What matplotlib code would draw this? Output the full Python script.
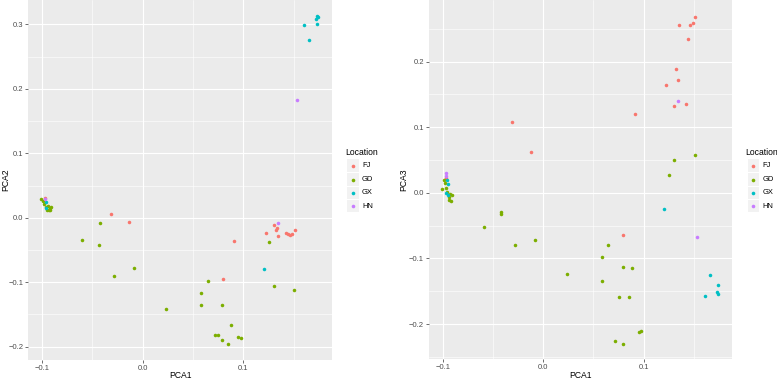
import matplotlib
matplotlib.use("Agg")
import matplotlib.pyplot as plt
from matplotlib.patches import Rectangle
from matplotlib.lines import Line2D
from matplotlib.ticker import MultipleLocator, FuncFormatter

plt.rcParams['font.family'] = ['Liberation Sans', 'DejaVu Sans']

locations = ["FJ", "GD", "GX", "HN"]
colors = {"FJ": "#F8766D", "GD": "#7CAE00", "GX": "#00BFC4", "HN": "#C77CFF"}

# ---- Panel 1: PCA1 vs PCA2 ----
p12_FJ_x = [-0.097, -0.0311, -0.0132, 0.130, 0.1335, 0.1325, 0.1225, 0.1348, 0.142, 0.1444,
            0.1464, 0.1487, 0.151, 0.091, 0.0794]
p12_FJ_y = [0.031, 0.0053, -0.0062, -0.0109, -0.016, -0.0196, -0.0232, -0.0284, -0.0243, -0.0258,
            -0.0274, -0.0248, -0.0191, -0.0361, -0.0946]
p12_GD_x = [-0.101, -0.094, -0.092, -0.093, -0.095, -0.091, -0.092, -0.096, -0.098, -0.099,
            -0.0427, -0.0599, -0.043, -0.0085, -0.0281, 0.0232, 0.1255, 0.0645, 0.1305, 0.1506,
            0.058, 0.058, 0.0788, 0.0874, 0.0715, 0.0749, 0.0791, 0.0851, 0.095, 0.0973]
p12_GD_y = [0.0285, 0.018, 0.015, 0.012, 0.012, 0.017, 0.012, 0.016, 0.022, 0.026,
            -0.0078, -0.035, -0.0428, -0.0775, -0.0899, -0.142, -0.0382, -0.0986, -0.1064, -0.1116,
            -0.1172, -0.1353, -0.1353, -0.1668, -0.1814, -0.1814, -0.1896, -0.1958, -0.1845, -0.1865]
p12_GX_x = [-0.0956, -0.0959, 0.1732, 0.1718, 0.1738, 0.1735, 0.1606, 0.1655, 0.1202]
p12_GX_y = [0.024, 0.0146, 0.3122, 0.3085, 0.312, 0.3008, 0.2983, 0.276, -0.0795]
p12_HN_x = [-0.097, 0.1529, 0.134]
p12_HN_y = [0.029, 0.183, -0.0078]

# ---- Panel 2: PCA1 vs PCA3 ----
p13_FJ_x = [-0.097, -0.0308, -0.0125, 0.151, 0.1493, 0.1463, 0.1354, 0.1447, 0.1328, 0.134,
            0.1228, 0.1305, 0.1424, 0.0918, 0.0798]
p13_FJ_y = [0.022, 0.1078, 0.062, 0.2683, 0.2591, 0.2566, 0.2561, 0.2343, 0.1886, 0.1713,
            0.1651, 0.1321, 0.1357, 0.1204, -0.0645]
p13_GD_x = [-0.1003, -0.0986, -0.0976, -0.0966, -0.0953, -0.0926, -0.091, -0.094, -0.0917, -0.0933,
            -0.0423, -0.0423, -0.0592, -0.0278, -0.0079, 0.0235, 0.151, 0.1308, 0.1255, 0.0649,
            0.0583, 0.0791, 0.0881, 0.0583, 0.0752, 0.0854, 0.0954, 0.0973, 0.0719, 0.0798]
p13_GD_y = [0.0066, 0.0198, 0.0147, 0.0071, 0.002, -0.0025, -0.0036, -0.0107, -0.0117, -0.0056,
            -0.0295, -0.032, -0.0518, -0.0788, -0.0716, -0.1235, 0.0579, 0.0493, 0.027, -0.0788,
            -0.0981, -0.1133, -0.1153, -0.1337, -0.1585, -0.159, -0.2129, -0.2104, -0.2261, -0.2312]
p13_GX_x = [-0.0956, -0.0950, -0.0965, -0.0948, 0.1205, 0.1659, 0.1738, 0.1613, 0.1728, 0.1742]
p13_GX_y = [0.0198, 0.0132, -0.0005, -0.003, -0.0249, -0.1255, -0.1407, -0.157, -0.1514, -0.1544]
p13_HN_x = [-0.097, -0.097, 0.1347, 0.1536]
p13_HN_y = [0.030, 0.026, 0.1402, -0.0671]

W, H = 777, 380
fig = plt.figure(figsize=(W / 100, H / 100), dpi=100)


def fx(x):
    return x / W


def fy(y):
    return 1 - y / H


def fmt(v, p):
    if abs(v) < 1e-9:
        return "0.0"
    return ("%.1f" % v).replace("-", "\u2212")


def style_axes(ax, xlim, ylim, ylabel, ax_left, ax_w, ax_bottom_px, ax_h, ylab_x):
    ax.set_facecolor("#EBEBEB")
    ax.set_xlim(*xlim)
    ax.set_ylim(*ylim)
    ax.xaxis.set_major_locator(MultipleLocator(0.1))
    ax.yaxis.set_major_locator(MultipleLocator(0.1))
    ax.xaxis.set_minor_locator(MultipleLocator(0.05))
    ax.yaxis.set_minor_locator(MultipleLocator(0.05))
    ax.grid(which="major", color="white", linewidth=0.8)
    ax.grid(which="minor", color="white", linewidth=0.4)
    ax.set_axisbelow(True)
    for s in ax.spines.values():
        s.set_visible(False)
    ax.tick_params(which="major", length=2, width=0.5, color="#333333",
                   labelsize=5.5, labelcolor="#4D4D4D", pad=1.5)
    ax.tick_params(which="minor", length=0)
    ax.xaxis.set_major_formatter(FuncFormatter(fmt))
    ax.yaxis.set_major_formatter(FuncFormatter(fmt))
    ax.set_xlabel("PCA1", fontsize=6.2, va="center")
    ax.xaxis.set_label_coords(0.5, (4.5 - ax_bottom_px) / ax_h)
    ax.set_ylabel(ylabel, fontsize=6.2, va="center", ha="center",
                  rotation_mode="default")
    ax.yaxis.set_label_coords((ylab_x - ax_left) / ax_w, 0.5)


def draw_legend(x0):
    fig.text(fx(x0), fy(152.5), "Location", fontsize=6.2, ha="left", va="center")
    ys = [165.7, 179.7, 192.9, 206.2]
    for loc, y in zip(locations, ys):
        fig.add_artist(Rectangle((fx(x0 + 2), fy(y + 6.2)), 11.5 / W, 12.4 / H,
                                 transform=fig.transFigure, facecolor="#F2F2F2",
                                 edgecolor="none"))
        fig.add_artist(Line2D([fx(x0 + 7.7)], [fy(y)], marker="o", markersize=2.6,
                              markerfacecolor=colors[loc], markeredgecolor="none",
                              linestyle="none", transform=fig.transFigure))
        fig.text(fx(x0 + 17), fy(y), loc, fontsize=5.4, ha="left", va="center",
                 color="black")


ax1 = fig.add_axes([fx(28), fy(360), 304 / W, 360 / H])
style_axes(ax1, (-0.1139, 0.188), (-0.2206, 0.3377), "PCA2", 28, 304, 20, 360, 5.5)
panel1 = {"FJ": (p12_FJ_x, p12_FJ_y), "GD": (p12_GD_x, p12_GD_y),
          "GX": (p12_GX_x, p12_GX_y), "HN": (p12_HN_x, p12_HN_y)}
for loc in locations:
    xs, ys = panel1[loc]
    ax1.scatter(xs, ys, s=6.5, color=colors[loc], linewidths=0, zorder=3)
draw_legend(345)

ax2 = fig.add_axes([fx(428.7), fy(359.3), 303 / W, 359.3 / H])
style_axes(ax2, (-0.1139, 0.1878), (-0.2538, 0.294), "PCA3", 428.7, 303, 20.7, 359.3, 403.5)
panel2 = {"FJ": (p13_FJ_x, p13_FJ_y), "GD": (p13_GD_x, p13_GD_y),
          "GX": (p13_GX_x, p13_GX_y), "HN": (p13_HN_x, p13_HN_y)}
for loc in locations:
    xs, ys = panel2[loc]
    ax2.scatter(xs, ys, s=6.5, color=colors[loc], linewidths=0, zorder=3)
draw_legend(745.5)

fig.savefig("out.png", dpi=100)
